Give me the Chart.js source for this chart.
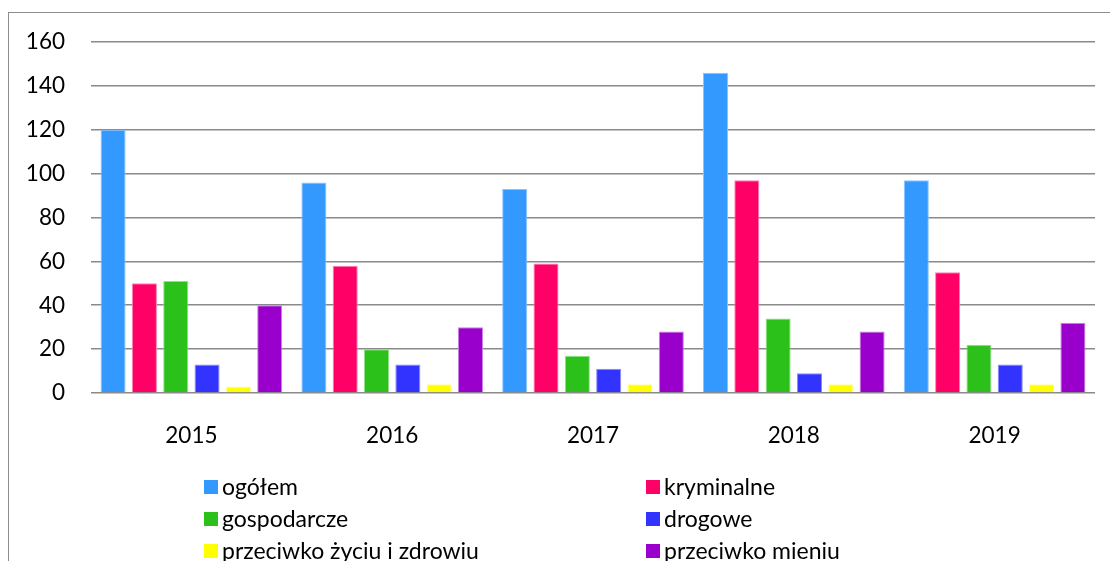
<!DOCTYPE html>
<html>
<head>
<meta charset="utf-8">
<script src="https://cdn.jsdelivr.net/npm/chart.js@4/dist/chart.umd.min.js"></script>
<style>
  html, body { margin: 0; padding: 0; background: #fff; overflow: hidden; }
  #wrap { position: relative; width: 1110px; height: 561px; }
  #frame { position: absolute; left: 8px; top: 12px; width: 1200px; height: 700px; border: 1px solid #8c8c8c; box-sizing: border-box; }
  canvas { position: absolute; left: 0; top: 0; }
</style>
</head>
<body>
<div id="wrap">
  <div id="frame"></div>
  <canvas id="chart" width="1110" height="561"></canvas>
</div>
<script>
const years = ['2015', '2016', '2017', '2018', '2019']
const ogolem = [120, 96, 93, 146, 97]
const kryminalne = [50, 58, 59, 97, 55]
const gospodarcze = [51, 20, 17, 34, 22]
const drogowe = [13, 13, 11, 9, 13]
const zyciu = [3, 4, 4, 4, 4]
const mieniu = [40, 30, 28, 28, 32]
const yTicks = [0, 20, 40, 60, 80, 100, 120, 140, 160]

const family = 'Lato, Calibri, "Open Sans", sans-serif'
const font = { family, size: 22.5 }

function ds(label, data, color, edge) {
    return { label, data, backgroundColor: color, borderColor: edge, borderWidth: 1, borderSkipped: 'bottom' }
}

// legend in two columns under the plot, like the original
const legend2col = {
    id: 'legend2col',
    afterDraw(chart) {
        const ctx = chart.ctx
        const cols = [204, 646]
        const rows = [487, 519, 551]
        ctx.save()
        ctx.font = `23px ${family}`
        ctx.textBaseline = 'middle'
        chart.data.datasets.forEach((d, i) => {
            const x = cols[i % 2]
            const y = rows[Math.floor(i / 2)]
            ctx.fillStyle = d.backgroundColor
            ctx.fillRect(x, y - 7, 14, 14)
            ctx.fillStyle = '#000'
            ctx.fillText(d.label, x + 18, y + 1)
        })
        ctx.restore()
    }
}

new Chart(document.getElementById('chart'), {
    type: 'bar',
    data: {
        labels: years,
        datasets: [
            ds('ogółem', ogolem, '#3399ff', '#8cc4ff'),
            ds('kryminalne', kryminalne, '#ff0066', '#ff80b0'),
            ds('gospodarcze', gospodarcze, '#2bc01a', '#8fe086'),
            ds('drogowe', drogowe, '#3333ff', '#8c8cff'),
            ds('przeciwko życiu i zdrowiu', zyciu, '#ffff00', '#ffff99'),
            ds('przeciwko mieniu', mieniu, '#9900cc', '#cc80e6')
        ]
    },
    options: {
        responsive: false,
        animation: false,
        layout: { padding: { top: 42, left: 0, right: 15, bottom: 0 } },
        datasets: { bar: { categoryPercentage: 0.936, barPercentage: 0.8 } },
        plugins: { legend: { display: false }, tooltip: { enabled: false } },
        scales: {
            x: {
                grid: { display: false },
                border: { display: false },
                ticks: { color: '#000', font, padding: 21, maxRotation: 0 },
                afterFit: s => { s.height = 168 }
            },
            y: {
                min: 0,
                max: 160,
                afterBuildTicks: s => { s.ticks = yTicks.map(v => ({ value: v })) },
                grid: { color: '#8a8a8a', lineWidth: 1.6, drawTicks: false },
                border: { display: false },
                ticks: { color: '#000', font, padding: 26 },
                afterFit: s => { s.width = 91 }
            }
        }
    },
    plugins: [legend2col]
})
</script>
</body>
</html>
